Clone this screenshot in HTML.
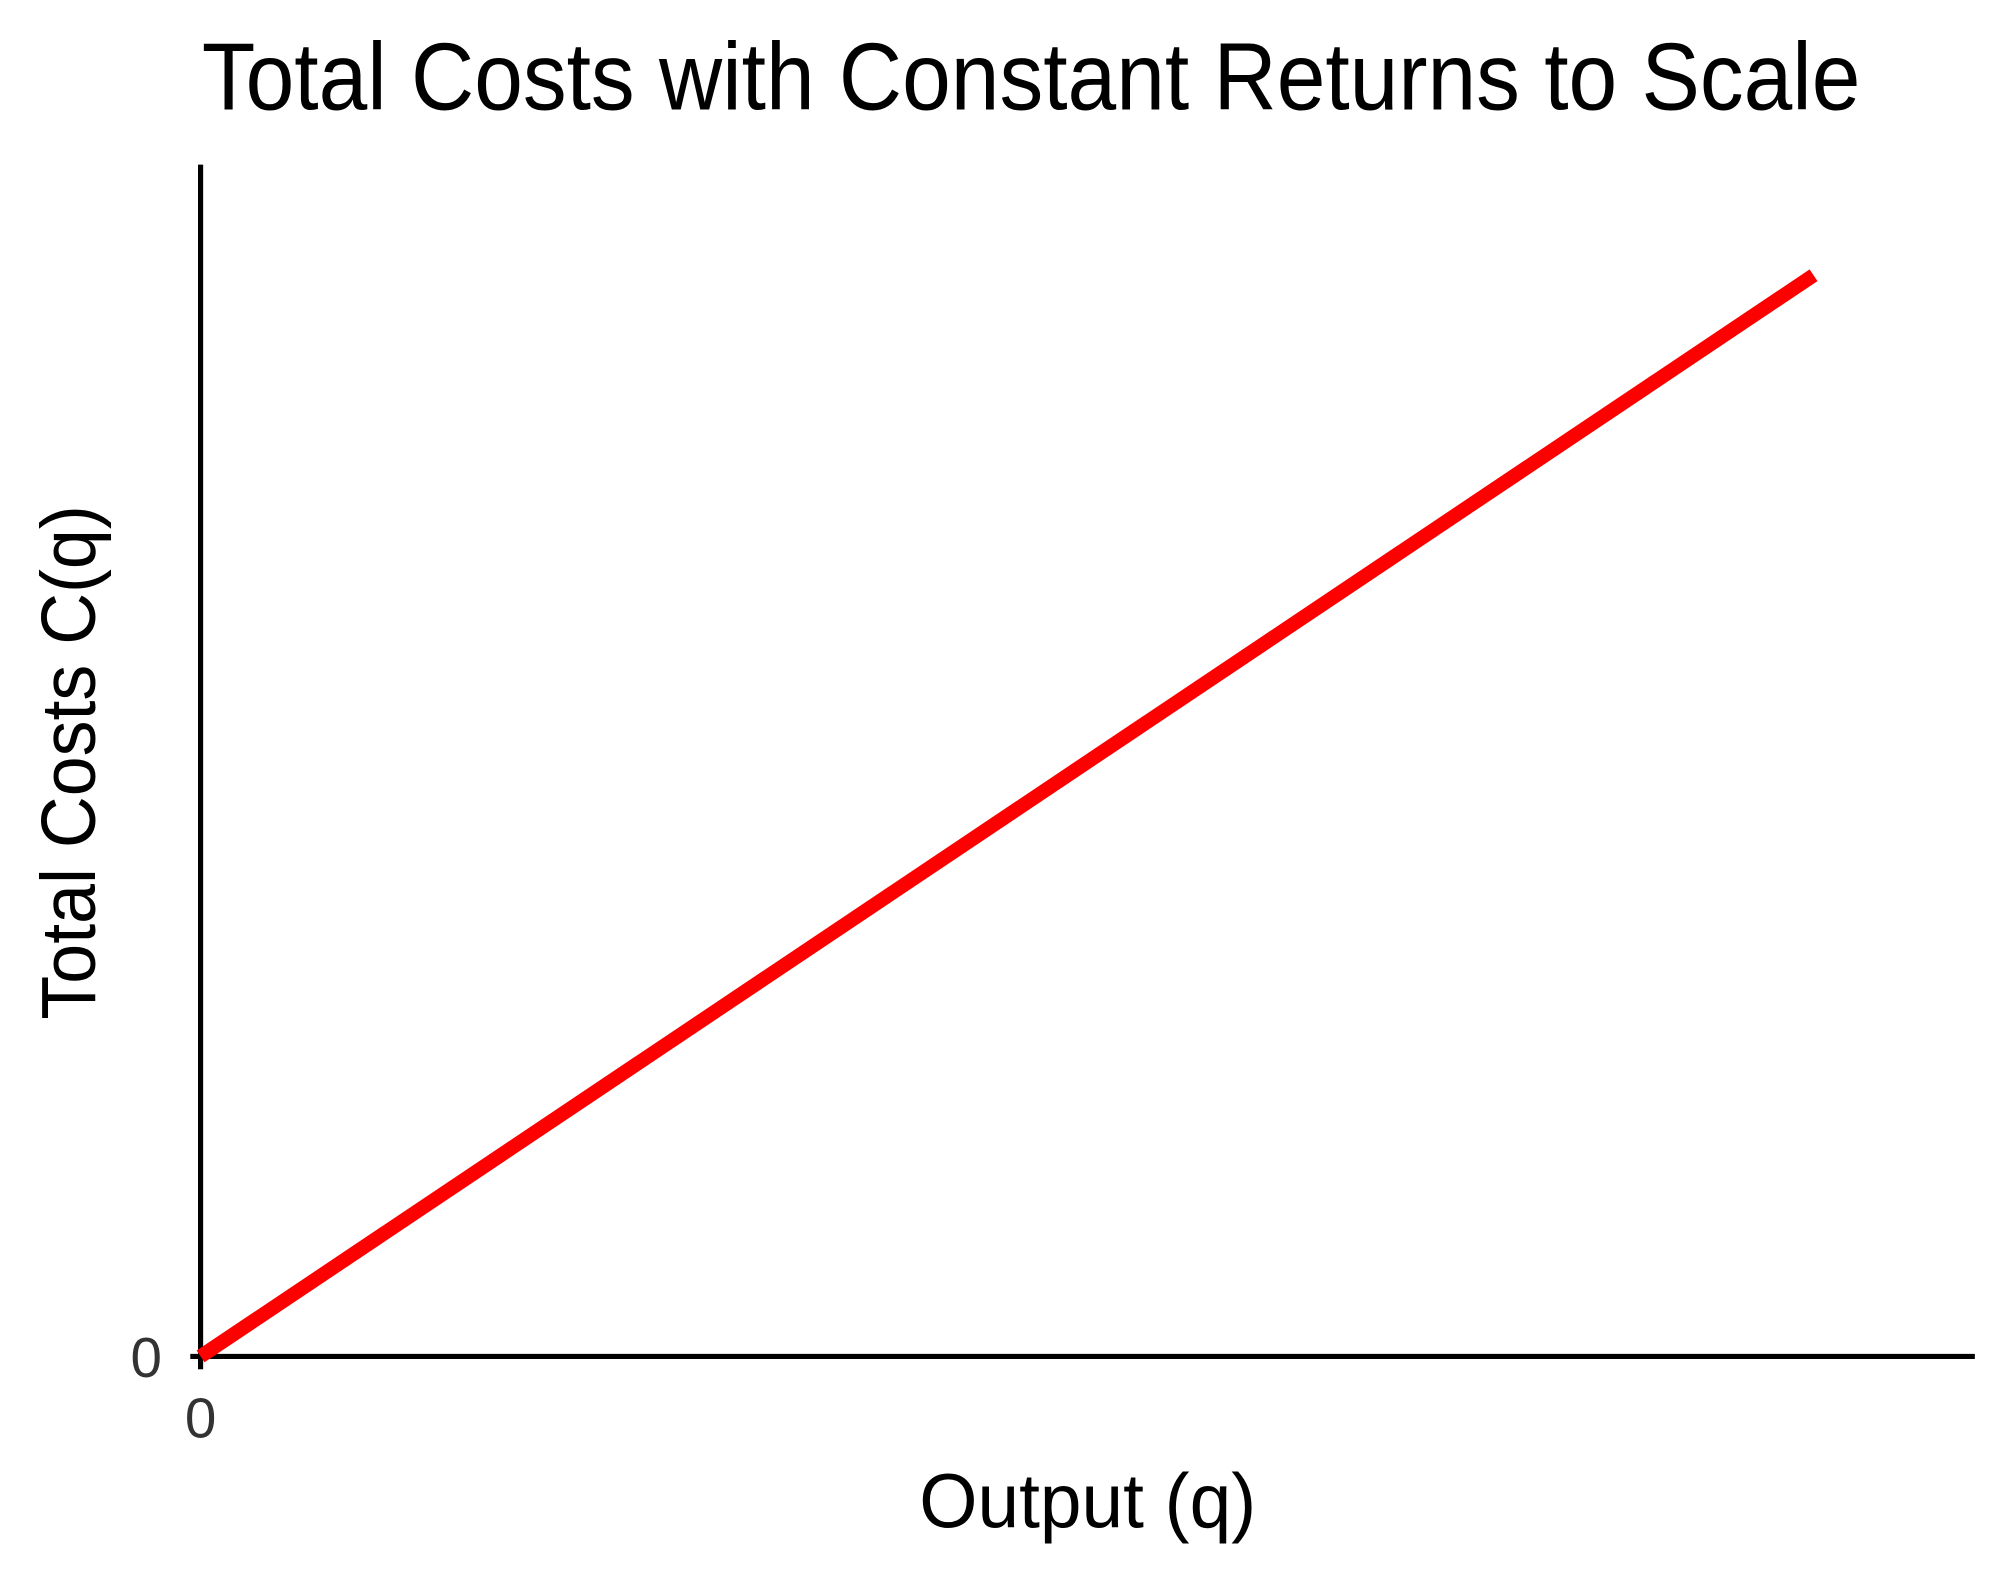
<!DOCTYPE html>
<html><head><meta charset="utf-8"><style>
html,body{margin:0;padding:0;background:#fff;}
svg{display:block;font-family:"Liberation Sans",sans-serif;}
</style></head><body>
<svg id="chart" width="2016" height="1584" viewBox="0 0 1568 1232" xmlns="http://www.w3.org/2000/svg">
<rect width="1568" height="1232" fill="#fff"/>
<text x="802" y="85" font-size="74" text-anchor="middle" textLength="1290" lengthAdjust="spacingAndGlyphs" fill="#000">Total Costs with Constant Returns to Scale</text>
<g id="plot"></g>
<text x="846" y="1188" font-size="60" text-anchor="middle" textLength="262" lengthAdjust="spacingAndGlyphs" fill="#000">Output (q)</text>
<text transform="translate(74,593) rotate(-90)" font-size="60" text-anchor="middle" textLength="400" lengthAdjust="spacingAndGlyphs" fill="#000">Total Costs C(q)</text>
</svg>
<script>
const xValues = [0, 10];
const costValues = [0, 10];
const xTicks = [0];
const yTicks = [0];
const xDomain = [0, 11];
const yDomain = [0, 11];

const L = 156, R = 1536, B = 1055, T = 130;
function sx(v){ return L + (v - xDomain[0]) / (xDomain[1] - xDomain[0]) * (R - L); }
function sy(v){ return B - (v - yDomain[0]) / (yDomain[1] - yDomain[0]) * (B - T); }
const NS = "http://www.w3.org/2000/svg";
const g = document.getElementById('plot');
function mk(tag, attrs){ const e = document.createElementNS(NS, tag); for (const k in attrs) e.setAttribute(k, attrs[k]); g.appendChild(e); return e; }

const yAxis = mk('line', {x1: L, y1: T - 2, x2: L, y2: B, stroke: '#000', 'stroke-width': 4});


const xAxis = mk('line', {x1: L - 8, y1: B, x2: R, y2: B, stroke: '#000', 'stroke-width': 4});



xTicks.forEach(v => {
  const t = mk('line', {x1: sx(v), y1: B, x2: sx(v), y2: B + 10, stroke: '#000', 'stroke-width': 4});
  
  
  const l = mk('text', {x: sx(v), y: B + 63, 'font-size': 44, 'text-anchor': 'middle', fill: '#333'});
  l.textContent = v;
  
  
});
yTicks.forEach(v => {
  const l = mk('text', {x: L - 30, y: sy(v) + 16, 'font-size': 44, 'text-anchor': 'end', fill: '#333'});
  l.textContent = v;
  
  
});

const pts = xValues.map((x, i) => sx(x) + ',' + sy(costValues[i])).join(' ');
const line = mk('polyline', {points: pts, fill: 'none', stroke: '#ff0000', 'stroke-width': 11});


</script>
</body></html>
